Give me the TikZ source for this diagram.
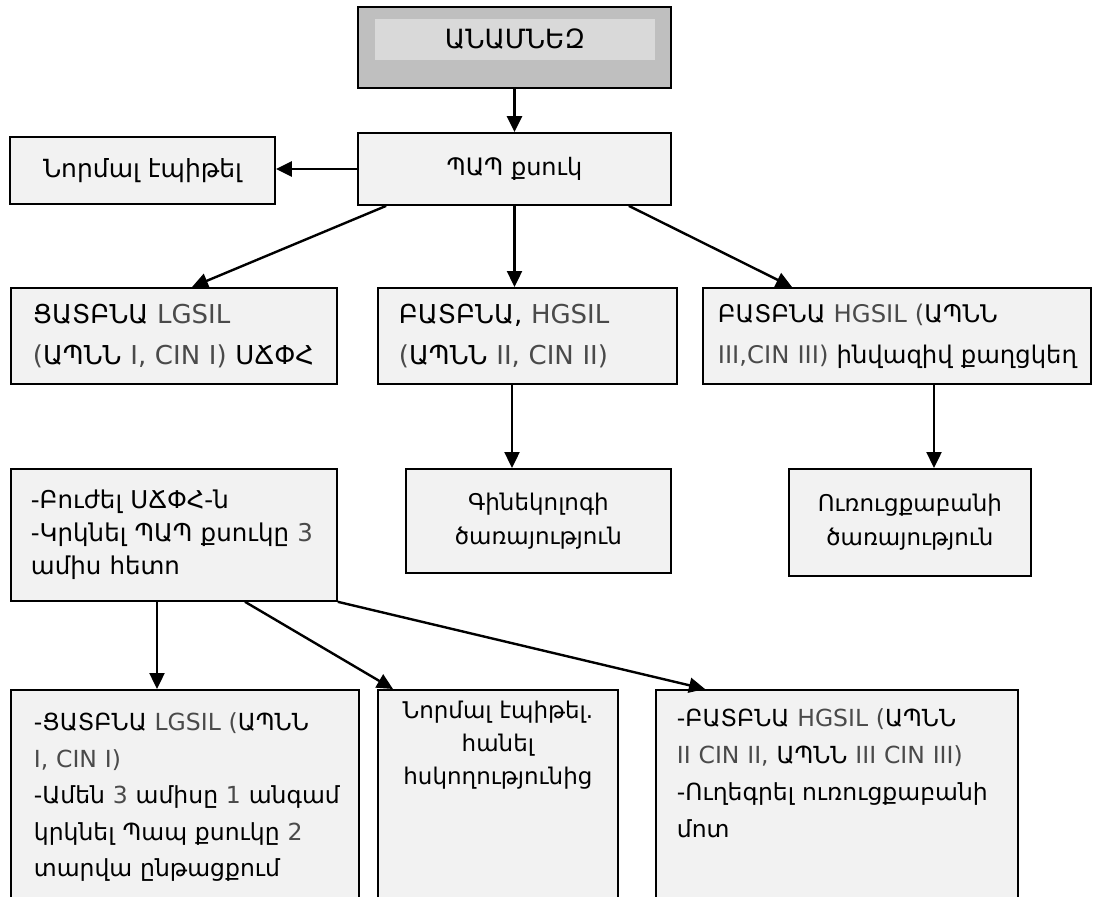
\documentclass[tikz,border=0pt]{standalone}
\usepackage{fontspec}
\setmainfont{DejaVu Sans}
\usetikzlibrary{arrows.meta}
\definecolor{boxfill}{HTML}{F2F2F2}
\definecolor{topfill}{HTML}{BFBFBF}
\definecolor{topinner}{HTML}{D9D9D9}
\definecolor{latgray}{HTML}{4A4A4A}
\newcommand{\lat}[1]{{\color{latgray}#1}}
\newcommand{\fsz}[2]{\fontsize{#1}{#2}\selectfont}

\begin{document}
\begin{tikzpicture}[x=1pt,y=-1pt,
    box/.style={draw, line width=1.8pt, fill=boxfill, inner sep=0pt},
    lbox/.style={box, anchor=north west, align=left,
      execute at begin node={\leftskip=#1pt\rightskip=-12pt plus 1fil}},
    cbox/.style={box, anchor=north west, align=center},
    arr/.style={-{Triangle[length=16pt,width=15pt]}, line width=2.4pt}]
  \useasboundingbox (0,0) rectangle (1099,896);
  \clip (0,0) rectangle (1099,896);
  % start
  \node[box, fill=topfill, minimum width=313, minimum height=81] (anam) at (514.5,47.5) {};
  \node[fill=topinner, minimum width=280, minimum height=41, inner sep=0pt,
    font=\fsz{26.5}{30}] (anamtxt) at (515,39.5) {ԱՆԱՄՆԵԶ};
  \node[box, minimum width=313, minimum height=72, font=\fsz{24}{30}] (pap) at (514.5,169) {ՊԱՊ քսուկ};
  \node[box, minimum width=265, minimum height=67, font=\fsz{25}{30}] (norm) at (142.5,170.5) {Նորմալ էպիթել};
  % second row
  \node[lbox=22, text width=326, minimum height=96, font=\fsz{26}{41}] (lsil) at (10,287)
    {ՑԱՏԲՆԱ \lat{LGSIL}\\\lat{(}ԱՊՆՆ \lat{I, CIN I)} ՍՃՓՀ};
  \node[lbox=21, text width=299, minimum height=96, font=\fsz{26}{41}] (hsil) at (377,287)
    {ԲԱՏԲՆԱ, \lat{HGSIL}\\\lat{(}ԱՊՆՆ \lat{II, CIN II)}};
  \node[lbox=15, text width=388, minimum height=96, font=\fsz{24.3}{41}] (hsilc) at (702,287)
    {ԲԱՏԲՆԱ \lat{HGSIL (}ԱՊՆՆ\\\lat{III,CIN III)} ինվազիվ քաղցկեղ};
  % third row
  \node[lbox=20, text width=326, minimum height=132, font=\fsz{24.5}{33}] (treat) at (10,468)
    {-Բուժել ՍՃՓՀ-ն\\-Կրկնել ՊԱՊ քսուկը \lat{3}\\ամիս հետո};
  \node[cbox, text width=265, minimum height=104, font=\fsz{23}{34}] (gyn) at (405,468)
    {Գինեկոլոգի\\ծառայություն};
  \node[cbox, text width=242, minimum height=107, font=\fsz{23}{34}] (onc) at (788,468)
    {Ուռուցքաբանի\\ծառայություն};
  % fourth row
  \node[lbox=23, text width=348, inner ysep=23pt, text depth=260pt, font=\fsz{23.5}{36.5}] (lsil2) at (10,689)
    {-ՑԱՏԲՆԱ \lat{LGSIL (}ԱՊՆՆ\\\lat{I, CIN I)}\\-Ամեն \lat{3} ամիսը \lat{1} անգամ\\կրկնել Պապ քսուկը \lat{2}\\տարվա ընթացքում};
  \node[cbox, text width=240, inner ysep=11pt, text depth=260pt, font=\fsz{23}{33}] (free) at (377,689)
    {Նորմալ էպիթել.\\հանել\\հսկողությունից};
  \node[lbox=21, text width=362, inner ysep=19pt, text depth=260pt, font=\fsz{23.5}{37}] (refer) at (655,689)
    {-ԲԱՏԲՆԱ \lat{HGSIL (}ԱՊՆՆ\\\lat{II CIN II,} ԱՊՆՆ \lat{III CIN III)}\\-Ուղեգրել ուռուցքաբանի\\մոտ};
  % arrows
  \coordinate (p1) at ([xshift=29]pap.south west);
  \coordinate (p2) at ([xshift=-43]pap.south east);
  \coordinate (h1) at ([xshift=135]hsil.south west);
  \coordinate (h2) at ([xshift=232]hsilc.south west);
  \coordinate (t1) at ([xshift=147]treat.south west);
  \coordinate (t2) at ([xshift=235]treat.south west);
  \draw[arr] (anam) -- (pap);
  \draw[arr] (pap.west) -- (pap.west -| norm.east);
  \draw[arr] (p1) -- ([xshift=182]lsil.north west);
  \draw[arr] (pap.south) -- (pap.south |- hsil.north);
  \draw[arr] (p2) -- ([xshift=90]hsilc.north west);
  \draw[arr] (h1) -- (h1 |- gyn.north);
  \draw[arr] (h2) -- (h2 |- onc.north);
  \draw[arr] (t1) -- (t1 |- lsil2.north);
  \draw[arr] (t2) -- ([xshift=16]free.north west);
  \draw[arr] (treat.south east) -- ([xshift=50]refer.north west);
\end{tikzpicture}
\end{document}
